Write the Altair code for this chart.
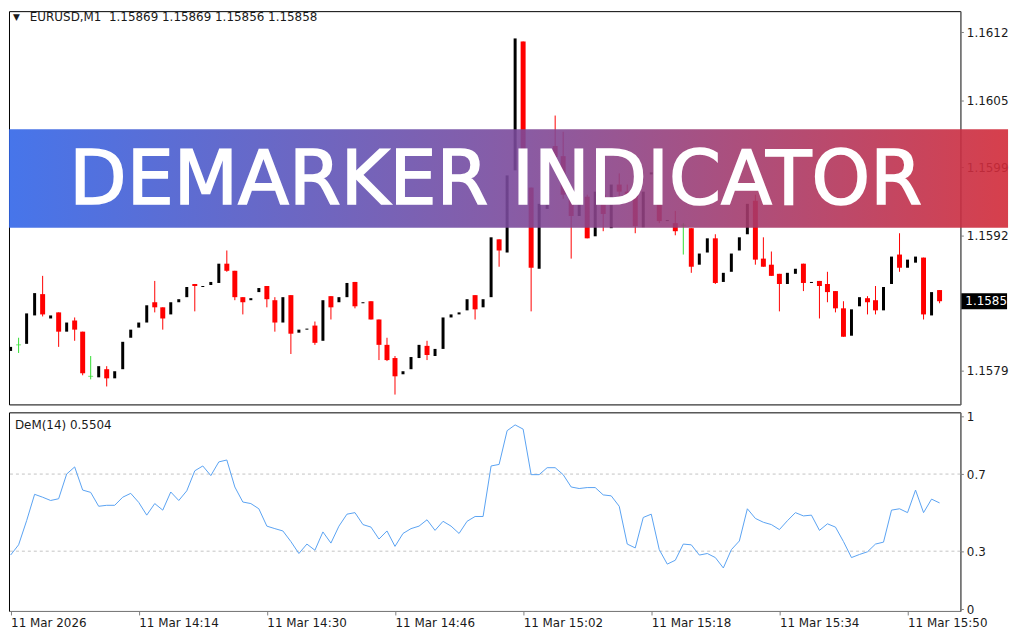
import json
import altair as alt
import pandas as pd
import numpy as np

# ---------------- data ----------------
bars = list(range(117))
opens = [1.15809,1.15815,1.15816,1.15844,1.15865,1.15841,1.15847,1.15828,1.15839,1.15828,
         1.15784,1.15783,1.15791,1.15782,1.15791,1.15822,1.15832,1.15837,1.15857,1.15852,
         1.15845,1.15857,1.15862,1.15875,1.15872,1.15874,1.15876,1.15895,1.15888,1.15862,
         1.15859,1.15867,1.15873,1.15859,1.15837,1.15864,1.15827,1.15830,1.15834,1.15819,
         1.15863,1.15857,1.15862,1.15877,1.15856,1.15858,1.15840,1.15815,1.15802,1.15786,
         1.15791,1.15802,1.15814,1.15804,1.15811,1.15842,1.15845,1.15849,1.15864,1.15852,
         1.15862,1.15919,1.15906,1.15987,1.16114,1.15970,1.15890,1.15949,1.16011,1.16001,
         1.15961,1.15942,1.15961,1.15922,1.15963,1.15930,1.15973,1.15966,1.15966,1.15931,
         1.15983,1.15957,1.15937,1.15935,1.15933,1.15930,1.15894,1.15906,1.15920,1.15877,
         1.15887,1.15908,1.15924,1.15957,1.15900,1.15894,1.15885,1.15875,1.15885,1.15895,
         1.15876,1.15878,1.15875,1.15868,1.15851,1.15824,1.15853,1.15861,1.15859,1.15849,
         1.15875,1.15904,1.15891,1.15896,1.15901,1.15844,1.15869]
highs = [1.15813,1.15822,1.15846,1.15866,1.15883,1.15844,1.15847,1.15837,1.15842,1.15828,
         1.15804,1.15794,1.15794,1.15789,1.15818,1.15830,1.15837,1.15854,1.15878,1.15852,
         1.15857,1.15860,1.15872,1.15875,1.15873,1.15877,1.15895,1.15908,1.15888,1.15862,
         1.15861,1.15871,1.15873,1.15862,1.15862,1.15864,1.15830,1.15831,1.15838,1.15859,
         1.15863,1.15862,1.15876,1.15877,1.15857,1.15858,1.15840,1.15822,1.15804,1.15789,
         1.15803,1.15815,1.15819,1.15811,1.15842,1.15845,1.15847,1.15860,1.15864,1.15860,
         1.15921,1.15919,1.15982,1.16117,1.16114,1.15970,1.15954,1.15957,1.16041,1.16025,
         1.15968,1.15954,1.15963,1.15966,1.15982,1.15973,1.15984,1.15973,1.15966,1.15966,
         1.15985,1.15970,1.15938,1.15947,1.15935,1.15930,1.15905,1.15920,1.15924,1.15886,
         1.15905,1.15921,1.15954,1.15963,1.15921,1.15907,1.15885,1.15886,1.15890,1.15895,
         1.15877,1.15878,1.15887,1.15868,1.15858,1.15850,1.15862,1.15863,1.15873,1.15872,
         1.15902,1.15925,1.15899,1.15902,1.15901,1.15867,1.15869]
lows = [1.15809,1.15807,1.15816,1.15844,1.15843,1.15841,1.15813,1.15828,1.15819,1.15785,
        1.15781,1.15783,1.15774,1.15782,1.15791,1.15822,1.15832,1.15837,1.15847,1.15830,
        1.15845,1.15857,1.15862,1.15848,1.15872,1.15874,1.15876,1.15887,1.15859,1.15845,
        1.15859,1.15867,1.15852,1.15828,1.15837,1.15806,1.15827,1.15830,1.15815,1.15819,
        1.15840,1.15857,1.15862,1.15851,1.15856,1.15840,1.15800,1.15799,1.15766,1.15786,
        1.15791,1.15802,1.15800,1.15804,1.15811,1.15842,1.15845,1.15849,1.15840,1.15852,
        1.15862,1.15892,1.15906,1.15987,1.15973,1.15848,1.15890,1.15949,1.15992,1.15959,
        1.15900,1.15942,1.15920,1.15922,1.15927,1.15930,1.15954,1.15959,1.15925,1.15931,
        1.15983,1.15935,1.15937,1.15923,1.15904,1.15886,1.15894,1.15906,1.15875,1.15877,
        1.15887,1.15908,1.15924,1.15894,1.15892,1.15883,1.15848,1.15875,1.15885,1.15868,
        1.15876,1.15841,1.15857,1.15847,1.15823,1.15824,1.15853,1.15845,1.15845,1.15849,
        1.15875,1.15887,1.15891,1.15896,1.15840,1.15844,1.15856]
closes = [1.15813,1.15815,1.15846,1.15866,1.15845,1.15844,1.15828,1.15837,1.15830,1.15787,
          1.15784,1.15794,1.15782,1.15789,1.15818,1.15830,1.15837,1.15854,1.15852,1.15841,
          1.15857,1.15860,1.15872,1.15873,1.15873,1.15877,1.15895,1.15888,1.15862,1.15857,
          1.15861,1.15871,1.15860,1.15837,1.15862,1.15826,1.15830,1.15831,1.15817,1.15859,
          1.15852,1.15862,1.15876,1.15853,1.15857,1.15840,1.15815,1.15800,1.15784,1.15789,
          1.15803,1.15815,1.15805,1.15811,1.15842,1.15845,1.15847,1.15860,1.15850,1.15860,
          1.15921,1.15908,1.15982,1.16117,1.15978,1.15891,1.15954,1.15957,1.16000,1.15963,
          1.15942,1.15954,1.15920,1.15966,1.15944,1.15973,1.15966,1.15963,1.15932,1.15966,
          1.15985,1.15937,1.15938,1.15927,1.15933,1.15892,1.15905,1.15920,1.15876,1.15886,
          1.15905,1.15921,1.15954,1.15899,1.15892,1.15883,1.15875,1.15886,1.15890,1.15876,
          1.15877,1.15873,1.15867,1.15851,1.15823,1.15850,1.15862,1.15857,1.15849,1.15872,
          1.15902,1.15891,1.15899,1.15902,1.15845,1.15867,1.15858]
dem = [0.28,0.333,0.458,0.595,0.58,0.563,0.572,0.70,0.737,0.617,0.605,0.533,0.538,0.538,
       0.58,0.60,0.553,0.487,0.547,0.513,0.607,0.563,0.613,0.717,0.742,0.692,0.763,0.773,
       0.633,0.555,0.547,0.52,0.43,0.417,0.405,0.35,0.288,0.337,0.305,0.40,0.342,0.43,
       0.492,0.50,0.438,0.425,0.363,0.405,0.325,0.392,0.417,0.43,0.463,0.408,0.455,0.43,
       0.392,0.455,0.48,0.48,0.742,0.75,0.925,0.955,0.933,0.697,0.697,0.733,0.733,0.697,
       0.633,0.625,0.63,0.63,0.592,0.587,0.533,0.337,0.317,0.475,0.492,0.308,0.233,
       0.253,0.337,0.333,0.28,0.288,0.267,0.213,0.308,0.353,0.52,0.47,0.45,0.438,0.412,
       0.458,0.50,0.483,0.487,0.408,0.442,0.425,0.35,0.267,0.283,0.297,0.337,0.347,0.513,
       0.52,0.50,0.617,0.50,0.57,0.5504]
dem_levels = [0.3, 0.7]
dem_ticks = [0, 0.3, 0.7, 1]
price_ticks = [1.16123, 1.16056, 1.15990, 1.15923, 1.15790]
time_tick_bars = [0, 16, 32, 48, 64, 80, 96, 112]
time_tick_labels = ["11 Mar 2026", "11 Mar 14:14", "11 Mar 14:30", "11 Mar 14:46",
                    "11 Mar 15:02", "11 Mar 15:18", "11 Mar 15:34", "11 Mar 15:50"]
symbol = "EURUSD,M1"
banner_text = "DEMARKER INDICATOR"

# ---------------- layout ----------------
W = 958
H1 = 396
H2 = 200
FONT = "DejaVu Sans"

df = pd.DataFrame({"bar": bars, "open": opens, "high": highs, "low": lows,
                   "close": closes, "dem": dem})
o = np.array(opens); c = np.array(closes)
df["kind"] = np.where(c > o, "bull", np.where(c < o, "bear", "doji"))

xs = alt.Scale(domain=[-0.2, 118.6], nice=False, zero=False)
ys = alt.Scale(domain=[1.157563, 1.161439], nice=False, zero=False)

price_axis = alt.Axis(orient="right", values=price_ticks, title=None, grid=False,
                      labelExpr="format(floor(datum.value*10000+0.0001)/10000, '.4f')",
                      tickSize=3, labelPadding=3, domainColor="#808080",
                      tickColor="#808080", labelColor="#1a1a1a",
                      labelFont=FONT, labelFontSize=12)

base = alt.Chart(df)
X = alt.X("bar:Q", scale=xs, axis=None)

bear_wick = base.transform_filter("datum.kind == 'bear'").mark_rule(
    color="#ff0000", strokeWidth=1).encode(
    x=X, y=alt.Y("low:Q", scale=ys, axis=price_axis), y2="high:Q")
bear_body = base.transform_filter("datum.kind == 'bear'").mark_rule(
    color="#ff0000", strokeWidth=5).encode(x=X, y=alt.Y("open:Q", scale=ys), y2="close:Q")
bull_body = base.transform_filter("datum.kind == 'bull'").mark_rule(
    color="#000000", strokeWidth=3).encode(x=X, y=alt.Y("open:Q", scale=ys), y2="close:Q")
doji_wick = base.transform_filter("datum.kind == 'doji'").mark_rule(
    color="#33dd33", strokeWidth=1).encode(x=X, y=alt.Y("low:Q", scale=ys), y2="high:Q")
doji_dash = base.transform_filter("datum.kind == 'doji'").mark_tick(
    color="#33dd33", orient="horizontal", size=5, thickness=1).encode(
    x=X, y=alt.Y("open:Q", scale=ys))

one = pd.DataFrame({"k": [0]})
cur = closes[-1]
cur_box = alt.Chart(one).mark_rule(color="#000000", strokeWidth=16).encode(
    x=alt.value(W + 1), x2=alt.value(W + 47), y=alt.Y(datum=cur, scale=ys))
cur_txt = alt.Chart(one).mark_text(color="#ffffff", align="left", baseline="middle",
                                   font=FONT, fontSize=12).encode(
    x=alt.value(W + 5), y=alt.Y(datum=cur, scale=ys),
    text=alt.value(f"{int(cur*10000)/10000:.4f}"))

banner = alt.Chart(one).mark_rect(
    opacity=0.9,
    color=alt.Gradient(gradient="linear",
                       stops=[alt.GradientStop(color="#3266e8", offset=0),
                              alt.GradientStop(color="#7a4a9c", offset=0.5),
                              alt.GradientStop(color="#d22a38", offset=1)],
                       x1=0, x2=1, y1=0, y2=0)).encode(
    x=alt.value(0), x2=alt.value(W + 48), y=alt.value(119), y2=alt.value(218))
banner_txt = alt.Chart(one).mark_text(
    color="#ffffff", font="DejaVu Sans", fontSize=75,
    stroke="#ffffff", strokeWidth=1.6,
    align="center", baseline="alphabetic").encode(
    x=alt.value(490), y=alt.value(194), text=alt.value(banner_text))

title_tri = alt.Chart(one).mark_text(color="#1a1a1a", font=FONT, fontSize=9,
                                     align="left", baseline="middle").encode(
    x=alt.value(4), y=alt.value(6), text=alt.value("\u25bc"))
title_txt = alt.Chart(one).mark_text(color="#1a1a1a", font=FONT, fontSize=12,
                                     align="left", baseline="middle").encode(
    x=alt.value(21), y=alt.value(6),
    text=alt.value(f"{symbol}\u00a0\u00a0{opens[-1]:.5f} {highs[-1]:.5f} "
                   f"{lows[-1]:.5f} {closes[-1]:.5f}"))

upper = alt.layer(bear_wick, bear_body, bull_body, doji_wick, doji_dash,
                  cur_box, cur_txt, banner, banner_txt, title_tri, title_txt
                  ).properties(width=W, height=H1)

# ---------------- lower panel ----------------
dys = alt.Scale(domain=[-0.01, 1.02], nice=False, zero=False)
time_axis = alt.Axis(values=time_tick_bars, title=None, grid=False,
                     labelExpr=f"{json.dumps(time_tick_labels)}[indexof({json.dumps(time_tick_bars)}, datum.value)]",
                     labelAlign="left", tickSize=4, labelPadding=3,
                     domainColor="#808080", tickColor="#808080", labelColor="#1a1a1a",
                     labelFont=FONT, labelFontSize=12)
dem_axis = alt.Axis(orient="right", values=dem_ticks, title=None, grid=False,
                    labelExpr="format(datum.value, '~g')", labelFlush=True,
                    tickSize=3, labelPadding=3, domainColor="#808080",
                    tickColor="#808080", labelColor="#1a1a1a",
                    labelFont=FONT, labelFontSize=12)

lv = pd.DataFrame({"level": dem_levels})
levels = alt.Chart(lv).mark_rule(color="#c4c4c4", strokeDash=[3, 3], strokeWidth=1).encode(
    y=alt.Y("level:Q", scale=dys, axis=dem_axis))
dem_line = alt.Chart(df).mark_line(color="#5aa2f2", strokeWidth=1).encode(
    x=alt.X("bar:Q", scale=xs, axis=time_axis), y=alt.Y("dem:Q", scale=dys))
dem_lbl = alt.Chart(one).mark_text(color="#1a1a1a", font=FONT, fontSize=12,
                                   align="left", baseline="middle").encode(
    x=alt.value(6), y=alt.value(13), text=alt.value(f"DeM(14) {dem[-1]:.4f}"))

lower = alt.layer(levels, dem_line, dem_lbl).properties(width=W, height=H2)

chart = alt.vconcat(upper, lower, spacing=4).properties(
    padding=0, background="#ffffff"
).configure_view(stroke="#000000", strokeWidth=1).configure_concat(spacing=4)

chart.save("out.html", embed_options={"renderer": "svg", "actions": False})
